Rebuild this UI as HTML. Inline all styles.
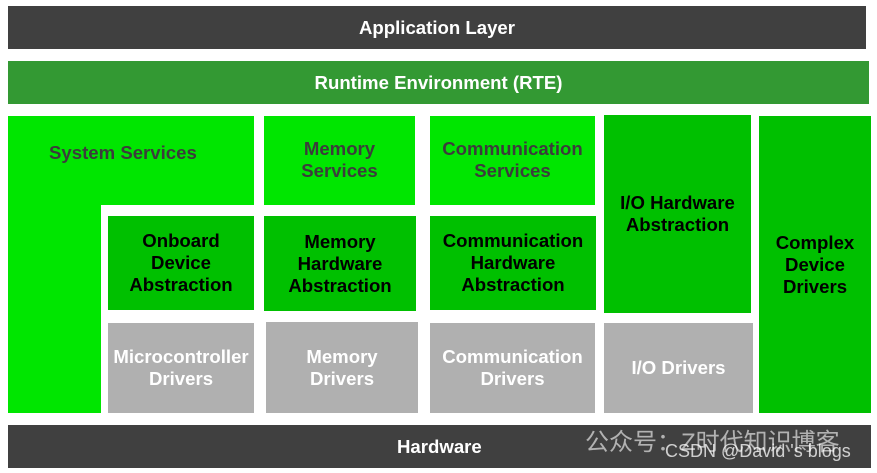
<!DOCTYPE html>
<html><head><style>
body{margin:0;width:877px;height:473px;background:#fff;position:relative;overflow:hidden;font-family:"Liberation Sans",Arial,sans-serif;font-weight:bold}
.b{position:absolute;display:flex;align-items:center;justify-content:center;text-align:center;font-size:18.6px;line-height:22px}
.dk{background:#404040;color:#fff}
.br{background:#00e600;color:#3c3c3c}
.md{background:#00c000;color:#000}
.gr{background:#b0b0b0;color:#fff}
</style></head><body>
<div class="b dk" style="left:8px;top:6px;width:858px;height:43px">Application Layer</div>
<div class="b" style="left:8px;top:61px;width:861px;height:43px;background:#339933;color:#fff">Runtime Environment (RTE)</div>
<div class="b br" style="left:8px;top:116px;width:246px;height:89px;align-items:flex-start;padding-top:26px;box-sizing:border-box;justify-content:flex-start;padding-left:41px">System Services</div>
<div class="br" style="position:absolute;left:8px;top:205px;width:93px;height:208px"></div>
<div class="b br" style="left:264px;top:116px;width:151px;height:89px;align-items:flex-start;padding-top:22px;box-sizing:border-box">Memory<br>Services</div>
<div class="b br" style="left:430px;top:116px;width:165px;height:89px;align-items:flex-start;padding-top:22px;box-sizing:border-box">Communication<br>Services</div>
<div class="b md" style="left:604px;top:115px;width:147px;height:198px;align-items:flex-start;padding-top:77px;box-sizing:border-box">I/O Hardware<br>Abstraction</div>
<div class="b md" style="left:759px;top:116px;width:112px;height:297px">Complex<br>Device<br>Drivers</div>
<div class="b md" style="left:108px;top:216px;width:146px;height:94px">Onboard<br>Device<br>Abstraction</div>
<div class="b md" style="left:264px;top:216px;width:152px;height:95px">Memory<br>Hardware<br>Abstraction</div>
<div class="b md" style="left:430px;top:216px;width:166px;height:94px">Communication<br>Hardware<br>Abstraction</div>
<div class="b gr" style="left:108px;top:323px;width:146px;height:90px">Microcontroller<br>Drivers</div>
<div class="b gr" style="left:266px;top:322px;width:152px;height:91px">Memory<br>Drivers</div>
<div class="b gr" style="left:430px;top:323px;width:165px;height:90px">Communication<br>Drivers</div>
<div class="b gr" style="left:604px;top:323px;width:149px;height:90px">I/O Drivers</div>
<div class="b dk" style="left:8px;top:425px;width:863px;height:43px;justify-content:flex-start;padding-left:389px;box-sizing:border-box">Hardware</div>
<div style="position:absolute;left:585px;top:422px;font-family:'Liberation Sans','Noto Sans CJK SC',sans-serif;font-weight:normal;font-size:24px;color:rgba(255,255,255,0.6)">公众号：Z时代知识博客</div>
<div style="position:absolute;left:665px;top:441px;font-weight:normal;font-size:18px;color:rgba(255,255,255,0.75)">CSDN @David 's blogs</div>
</body></html>
